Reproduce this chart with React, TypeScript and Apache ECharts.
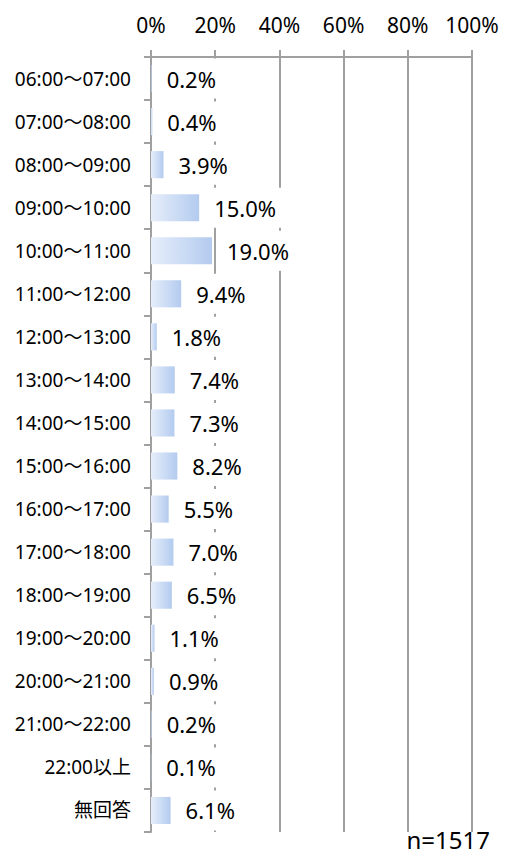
import React, { useEffect, useRef } from "react";
import * as echarts from "echarts";

const categories = [
  "06:00～07:00",
  "07:00～08:00",
  "08:00～09:00",
  "09:00～10:00",
  "10:00～11:00",
  "11:00～12:00",
  "12:00～13:00",
  "13:00～14:00",
  "14:00～15:00",
  "15:00～16:00",
  "16:00～17:00",
  "17:00～18:00",
  "18:00～19:00",
  "19:00～20:00",
  "20:00～21:00",
  "21:00～22:00",
  "22:00以上",
  "無回答",
];
const values = [0.2, 0.4, 3.9, 15.0, 19.0, 9.4, 1.8, 7.4, 7.3, 8.2, 5.5, 7.0, 6.5, 1.1, 0.9, 0.2, 0.1, 6.1];
const xTicks = [0, 20, 40, 60, 80, 100];
const sampleSize = "n=1517";

const FONT = "'Noto Sans', 'Noto Sans CJK JP', sans-serif";
const GRAY = "#a0a0a0";

export default function App() {
  const ref = useRef<HTMLDivElement>(null);
  useEffect(() => {
    if (!ref.current) return;
    const chart = echarts.init(ref.current, null, { renderer: "svg" });
    chart.setOption({
      animation: false,
      backgroundColor: "#fff",
      grid: { left: 151, right: 35, top: 57, bottom: 22, containLabel: false },
      xAxis: {
        type: "value",
        position: "top",
        min: xTicks[0],
        max: xTicks[xTicks.length - 1],
        interval: 20,
        axisLine: { show: true, lineStyle: { color: GRAY, width: 2 } },
        axisTick: { show: true, length: 7, lineStyle: { color: GRAY, width: 2 } },
        splitLine: { show: true, lineStyle: { color: GRAY, width: 2 } },
        axisLabel: {
          formatter: "{value}%",
          fontSize: 21,
          color: "#000",
          fontFamily: FONT,
          margin: 22,
        },
      },
      yAxis: {
        type: "category",
        inverse: true,
        data: categories,
        axisLine: { show: true, lineStyle: { color: GRAY, width: 2 } },
        axisTick: { show: true, length: 7, lineStyle: { color: GRAY, width: 2 } },
        axisLabel: {
          fontSize: 19,
          color: "#000",
          fontFamily: FONT,
          margin: 20,
          padding: [5, 0, 0, 0],
        },
      },
      series: [
        {
          type: "bar",
          data: values,
          barCategoryGap: "37%",
          itemStyle: {
            color: new echarts.graphic.LinearGradient(0, 0, 1, 0, [
              { offset: 0, color: "#e6eefa" },
              { offset: 1, color: "#b3cbef" },
            ]),
          },
          label: {
            show: true,
            position: "right",
            distance: 10,
            formatter: (p: any) => Number(p.value).toFixed(1) + "%",
            fontSize: 22,
            color: "#000",
            fontFamily: FONT,
            backgroundColor: "#fff",
            padding: [11, 8, 7, 5],
          },
        },
      ],
      graphic: [
        {
          type: "text",
          right: 17,
          top: 827,
          style: { text: sampleSize, fontSize: 24, fill: "#000", fontFamily: FONT },
        },
      ],
    });
    return () => chart.dispose();
  }, []);
  return <div ref={ref} style={{ width: 507, height: 854, position: "absolute", left: 0, top: 0 }} />;
}
